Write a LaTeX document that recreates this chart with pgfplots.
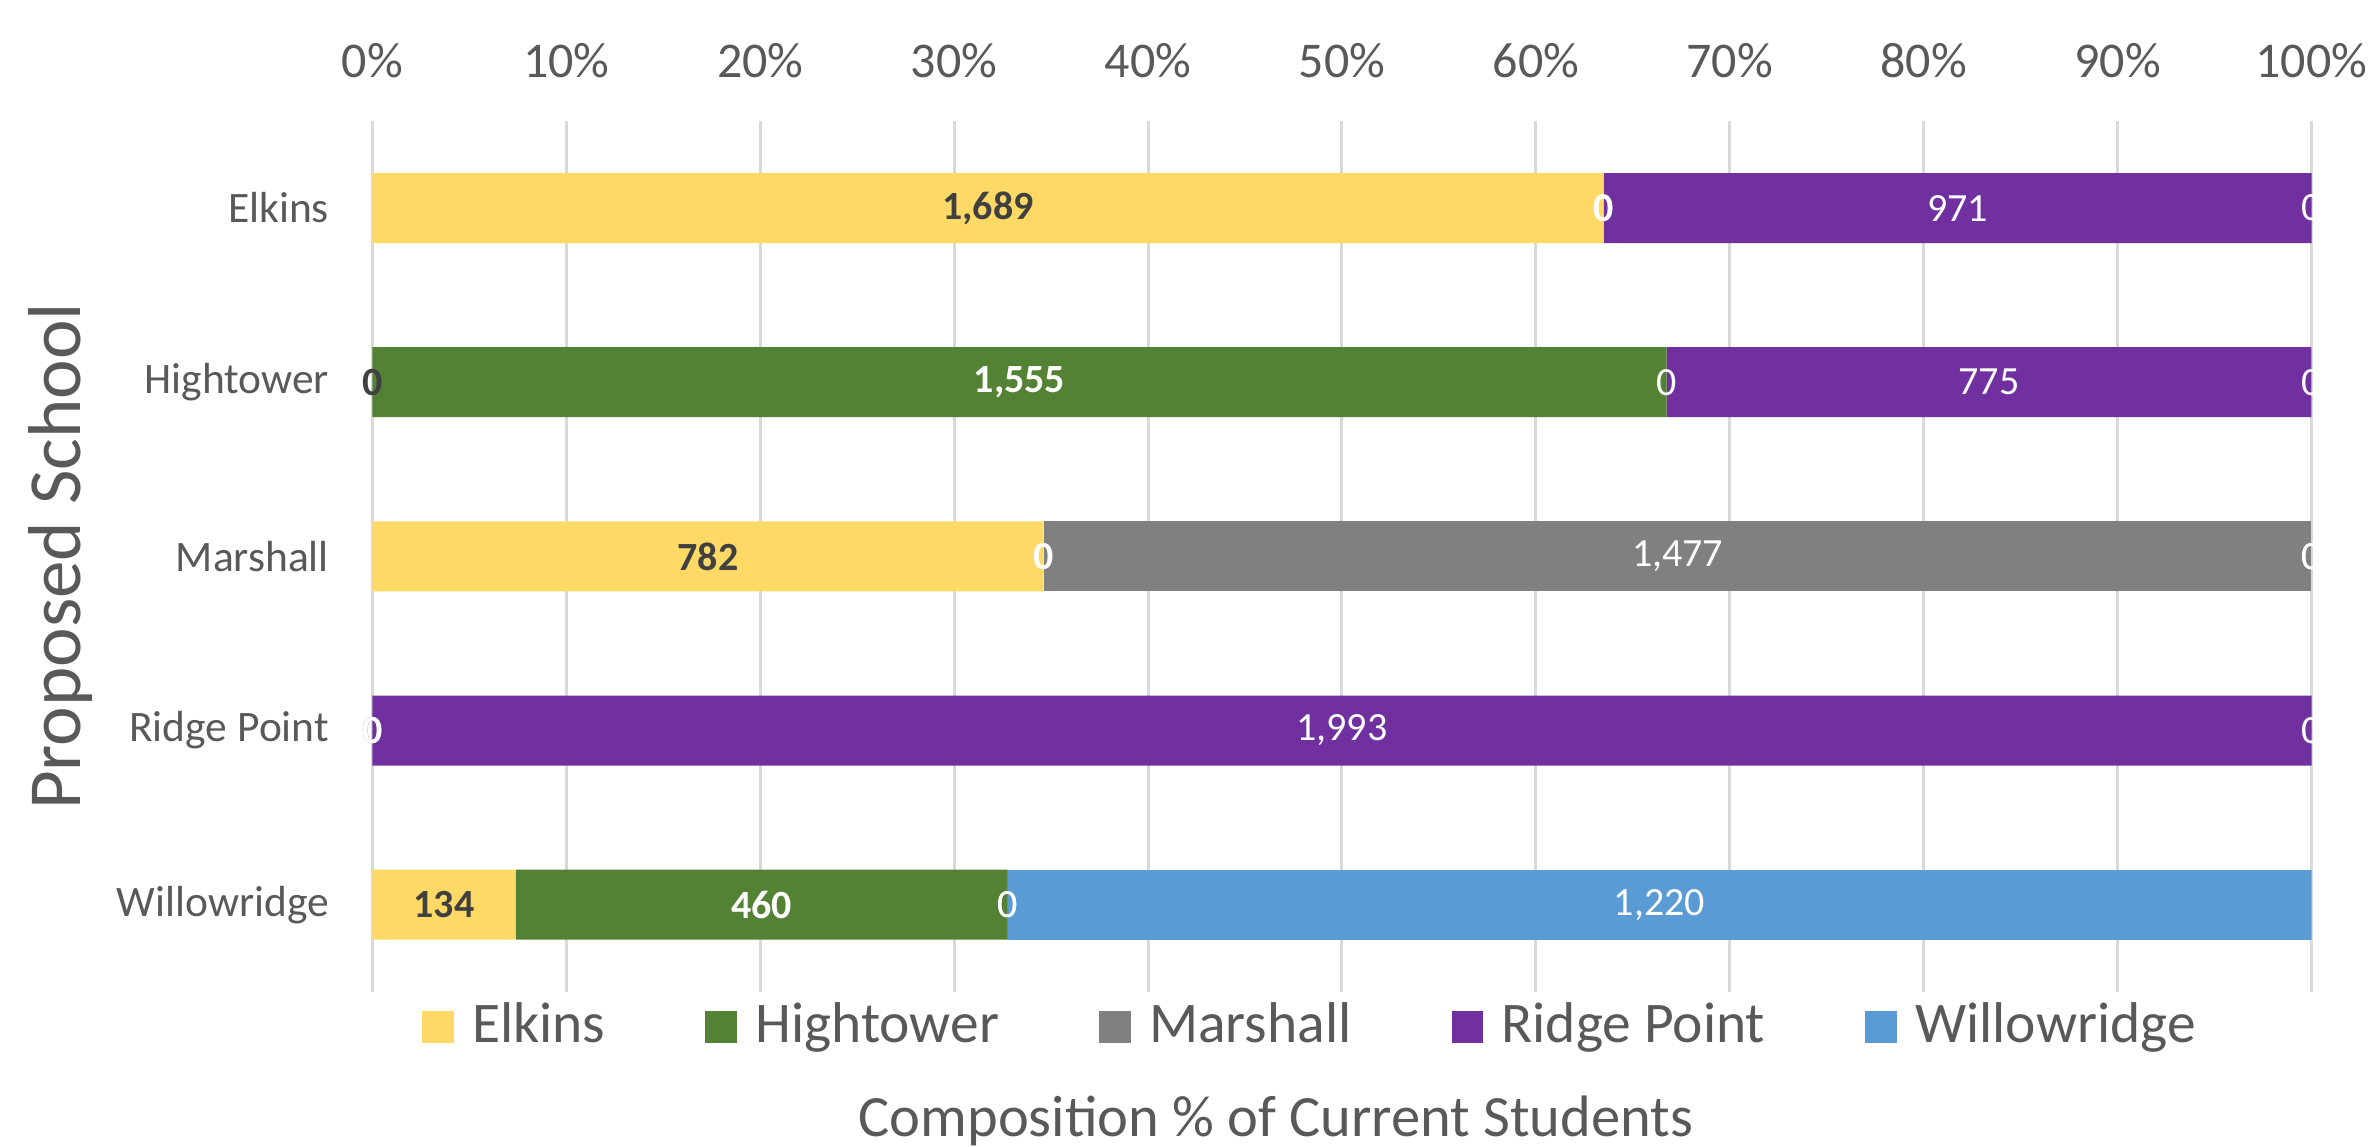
\documentclass[border=0pt]{standalone}
\usepackage{fontspec}
\setmainfont{Carlito}
\usepackage{pgfplots}
\usepackage{pgfplotstable}
\pgfplotsset{compat=1.18}
\definecolor{cE}{HTML}{FFD966}
\definecolor{cH}{HTML}{548235}
\definecolor{cM}{HTML}{808080}
\definecolor{cR}{HTML}{7030A0}
\definecolor{cW}{HTML}{5B9BD5}
\definecolor{txt}{HTML}{595959}
\definecolor{dark}{HTML}{404040}
\definecolor{gridc}{HTML}{D9D9D9}

\pgfplotstableread{
idx E H M R W
4 1689 0 0 971 0
3 0 1555 0 775 0
2 782 0 1477 0 0
1 0 0 0 1993 0
0 134 460 0 0 1220
}\data

\newcommand{\tot}{(\thisrow{E}+\thisrow{H}+\thisrow{M}+\thisrow{R}+\thisrow{W})}

\pgfplotsset{
 /pgf/number format/assume math mode=true,
 base/.style={
  scale only axis, width=387.9pt, height=174.2pt,
  xmin=0, xmax=100, ymin=-0.5, ymax=4.5,
  at={(0,0)}, anchor=south west,
 },
 lab/.style={draw=none, mark=none, nodes near coords, point meta=explicit,
   every node near coord/.append style={anchor=center, inner sep=0pt}},
}
\begin{document}
\begin{tikzpicture}
\path[use as bounding box] (-74.5pt,-30.9pt) rectangle (400.6pt,198.4pt);
\begin{axis}[base,
  xbar stacked, bar width=14pt,
  axis line style={draw=none},
  major tick length=0pt,
  xtick={0,10,...,100},
  xticklabels={0\%,10\%,20\%,30\%,40\%,50\%,60\%,70\%,80\%,90\%,100\%},
  xticklabel pos=right,
  xticklabel style={anchor=center, yshift=12.1pt, font=\fontsize{10}{12}\selectfont, text=txt},
  xmajorgrids, grid style={draw=gridc, line width=0.6pt},
  ytick={0,1,2,3,4},
  yticklabels={Willowridge,Ridge Point,Marshall,Hightower,Elkins},
  yticklabel style={anchor=east, inner sep=0pt, xshift=-8.5pt, font=\fontsize{8.7}{10}\selectfont, text=txt},
  xlabel={Composition \% of Current Students},
  xlabel style={at={(axis description cs:0.466,-0.148)}, anchor=center, font=\fontsize{11.7}{14}\selectfont, text=txt},
  ylabel={Proposed School},
  ylabel style={at={(axis description cs:-0.1609,0.5)}, anchor=center, font=\fontsize{15}{18}\selectfont, text=txt},
  legend columns=5,
  legend style={at={(axis description cs:0.483,-0.040)}, anchor=center, draw=none, fill=none,
     font=\fontsize{11.5}{14}\selectfont, text=txt, nodes={inner sep=0pt, anchor=west},
     /tikz/every odd column/.append style={column sep=3.6pt},
     /tikz/every even column/.append style={column sep=20pt}},
  legend image code/.code={\fill[#1] (0pt,-3.2pt) rectangle (6.4pt,3.2pt);},
]
\addplot[fill=cE, draw=none] table[x expr={100*\thisrow{E}/\tot}, y=idx]{\data};
\addplot[fill=cH, draw=none] table[x expr={100*\thisrow{H}/\tot}, y=idx]{\data};
\addplot[fill=cM, draw=none] table[x expr={100*\thisrow{M}/\tot}, y=idx]{\data};
\addplot[fill=cR, draw=none] table[x expr={100*\thisrow{R}/\tot}, y=idx]{\data};
\addplot[fill=cW, draw=none] table[x expr={100*\thisrow{W}/\tot}, y=idx]{\data};
\legend{Elkins,Hightower,Marshall,Ridge Point,Willowridge}
\end{axis}
\begin{axis}[base, hide axis, clip=false]
\addplot[lab, every node near coord/.append style={text=dark, font=\bfseries\fontsize{8}{9}\selectfont}]
  table[x expr={100*(\thisrow{E}/2)/\tot}, y=idx, meta=E]{\data};
\addplot[lab, every node near coord/.append style={text=white, font=\bfseries\fontsize{8}{9}\selectfont}]
  table[x expr={100*(\thisrow{E}+\thisrow{H}/2)/\tot}, y=idx, meta=H]{\data};
\addplot[lab, every node near coord/.append style={text=white, font=\fontsize{8}{9}\selectfont}]
  table[x expr={100*(\thisrow{E}+\thisrow{H}+\thisrow{M}/2)/\tot}, y=idx, meta=M]{\data};
\addplot[lab, every node near coord/.append style={text=white, font=\fontsize{8}{9}\selectfont}]
  table[x expr={100*(\thisrow{E}+\thisrow{H}+\thisrow{M}+\thisrow{R}/2)/\tot}, y=idx, meta=R]{\data};
\addplot[lab, every node near coord/.append style={text=white, font=\fontsize{8}{9}\selectfont}]
  table[x expr={100*(\thisrow{E}+\thisrow{H}+\thisrow{M}+\thisrow{R}+\thisrow{W}/2)/\tot}, y=idx, meta=W]{\data};
\end{axis}
\end{tikzpicture}
\end{document}
